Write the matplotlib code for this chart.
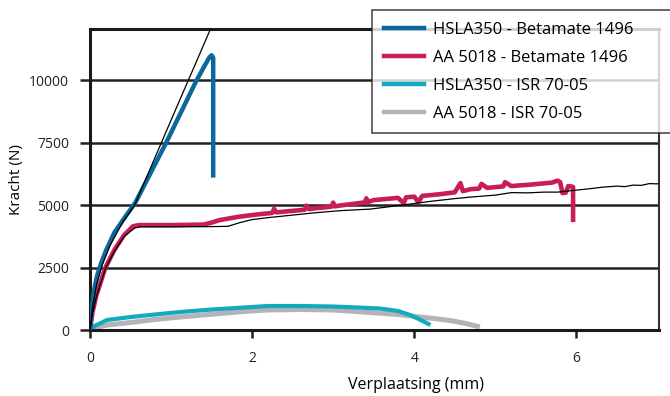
import matplotlib
matplotlib.use("Agg")
import matplotlib.pyplot as plt

plt.rcParams['font.family'] = ['Open Sans', 'DejaVu Sans']

# HSLA350 - Betamate 1496
blue_x = [0, 0.02, 0.05, 0.09, 0.14, 0.2, 0.3, 0.45, 0.56, 0.75, 0.94, 1.12, 1.30, 1.40, 1.47, 1.50, 1.52, 1.52]
blue_y = [0, 800, 1600, 2200, 2700, 3200, 3900, 4600, 5100, 6300, 7500, 8700, 9900, 10500, 10900, 11000, 10900, 6100]

# AA 5018 - Betamate 1496
red_x = [0, 0.03, 0.08, 0.14, 0.19, 0.3, 0.42, 0.53, 0.6, 1.0, 1.4, 1.5, 1.6, 1.81,
         1.9, 2.0, 2.1, 2.2, 2.25, 2.27, 2.3, 2.4, 2.5, 2.6, 2.65, 2.67, 2.7, 2.8, 2.9,
         2.98, 3.0, 3.02, 3.1, 3.2, 3.3, 3.39, 3.41, 3.43, 3.5, 3.6, 3.7, 3.8, 3.87, 3.9,
         4.0, 4.05, 4.1, 4.2, 4.3, 4.4, 4.5, 4.57, 4.6, 4.7, 4.8, 4.83, 4.9, 5.0, 5.1,
         5.12, 5.2, 5.3, 5.4, 5.5, 5.6, 5.7, 5.77, 5.8, 5.83, 5.87, 5.9, 5.95, 5.96, 5.96]
red_y = [0, 700, 1400, 2000, 2500, 3200, 3800, 4150, 4200, 4200, 4220, 4300, 4400, 4520,
         4560, 4600, 4640, 4670, 4690, 4850, 4710, 4740, 4770, 4800, 4820, 4980, 4840, 4880, 4910,
         4940, 5100, 4950, 4990, 5030, 5070, 5110, 5270, 5120, 5200, 5230, 5260, 5290, 5080, 5310,
         5340, 5120, 5370, 5400, 5430, 5470, 5510, 5880, 5560, 5640, 5660, 5850, 5690, 5720, 5750,
         5920, 5760, 5790, 5810, 5840, 5870, 5900, 5980, 5920, 5480, 5500, 5760, 5740, 5720, 4320]

# HSLA350 - ISR 70-05
cyan_x = [0, 0.05, 0.21, 0.5, 0.8, 1.11, 1.5, 1.9, 2.19, 2.6, 3.0, 3.3, 3.58, 3.8, 3.95, 4.08, 4.2]
cyan_y = [0, 150, 400, 520, 620, 720, 820, 900, 960, 960, 940, 900, 860, 760, 600, 400, 200]

# AA 5018 - ISR 70-05
gray_x = [0, 0.05, 0.21, 0.5, 0.8, 1.11, 1.5, 1.9, 2.19, 2.6, 3.0, 3.46, 3.8, 4.07, 4.3, 4.48, 4.65, 4.81]
gray_y = [0, 80, 200, 300, 420, 520, 630, 740, 800, 820, 800, 700, 620, 520, 440, 360, 250, 120]

# thin black reference curves
ref1_x = [0, 0.03, 0.08, 0.15, 0.25, 0.4, 0.55, 1.0, 1.50]
ref1_y = [0, 900, 1800, 2600, 3400, 4300, 5000, 8400, 12150]

ref2_x = [0, 0.03, 0.08, 0.14, 0.19, 0.3, 0.42, 0.55, 0.62, 1.0, 1.5, 1.7, 1.85, 2.0, 2.2,
          2.5, 2.8, 3.1, 3.46, 3.8, 4.2, 4.5, 4.69, 5.0, 5.2, 5.4, 5.6, 5.77, 6.0, 6.15,
          6.33, 6.5, 6.6, 6.7, 6.8, 6.9, 7.0, 7.07]
ref2_y = [0, 650, 1350, 1950, 2450, 3150, 3750, 4080, 4130, 4130, 4140, 4150, 4300, 4420, 4500,
          4600, 4700, 4780, 4840, 4980, 5150, 5260, 5320, 5400, 5500, 5490, 5520, 5520, 5600, 5650,
          5720, 5760, 5740, 5800, 5790, 5860, 5850, 5920]

labels = ["HSLA350 - Betamate 1496", "AA 5018 - Betamate 1496",
          "HSLA350 - ISR 70-05", "AA 5018 - ISR 70-05"]
colors = ["#0b679c", "#c81d58", "#12aabd", "#b3b3b8"]

fig = plt.figure(figsize=(6.7, 3.96), dpi=100)
ax = fig.add_axes([90/670, 66/396, 569/670, 301/396])

for yv in [2500, 5000, 7500, 10000]:
    ax.axhline(yv, color="#222222", lw=1.8, zorder=1)

ax.plot(gray_x, gray_y, color=colors[3], lw=3.6, solid_capstyle="butt", zorder=2)
ax.plot(cyan_x, cyan_y, color=colors[2], lw=3.0, solid_capstyle="butt", zorder=2)
ax.plot(red_x, red_y, color=colors[1], lw=3.3, solid_capstyle="butt", zorder=3)
ax.plot(blue_x, blue_y, color=colors[0], lw=3.2, solid_capstyle="butt", zorder=3)
ax.plot(ref1_x, ref1_y, color="black", lw=0.9, zorder=4)
ax.plot(ref2_x, ref2_y, color="black", lw=0.9, zorder=4)

ax.set_xlim(0, 7.02)
ax.set_ylim(0, 12050)
ax.set_xticks([0, 2, 4, 6])
ax.set_yticks([0, 2500, 5000, 7500, 10000])
ax.tick_params(axis="both", direction="out", length=7, width=1.8, labelsize=10, colors="#222222")
ax.tick_params(axis="x", length=6, pad=9)
ax.tick_params(axis="y", pad=8)
for s in ["left", "bottom", "top"]:
    ax.spines[s].set_linewidth(2.2)
    ax.spines[s].set_color("#1a1a1a")
ax.spines["right"].set_linewidth(1.5)
ax.spines["right"].set_color("#333333")

ax.set_xlabel("Verplaatsing (mm)", fontsize=11.5, labelpad=8, x=(416 - 90) / 569)
ax.set_ylabel("Kracht (N)", fontsize=11, labelpad=4)

handles = [plt.Line2D([], [], color=c, lw=3.2) for c in colors]
leg = fig.legend(handles, labels, loc="upper left", mode="expand",
                 bbox_to_anchor=(372/670, 1 - 10/396, 310/670, 0.0),
                 fontsize=12, frameon=True, fancybox=False, edgecolor="#222222",
                 handlelength=2.4, handletextpad=0.55, labelspacing=0.72,
                 borderpad=0.7, borderaxespad=0)
leg.get_frame().set_linewidth(1.2)

fig.savefig("out.png", dpi=100)
